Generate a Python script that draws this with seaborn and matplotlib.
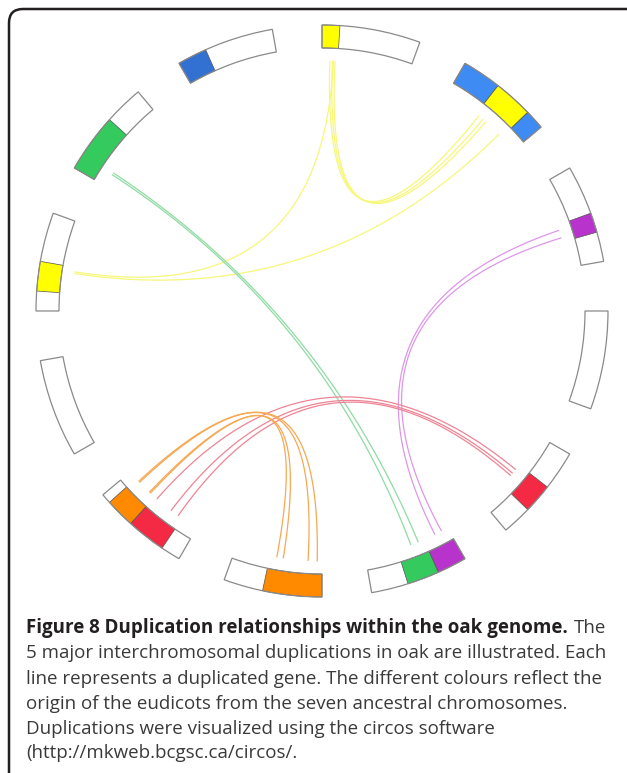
import numpy as np
import pandas as pd
import matplotlib
matplotlib.use("Agg")
import matplotlib.pyplot as plt
import seaborn as sns
from matplotlib.patches import Wedge, FancyBboxPatch

# chromosomes: angle in degrees, clockwise from the top
chrom_start = [0, 30, 60, 90, 120, 150, 180, 210, 240, 270, 300, 330]
chrom_end = [20, 50, 80, 110, 140, 170, 200, 230, 260, 290, 320, 350]

# coloured blocks (ancestral origin)
block_start = [0, 30, 38, 46, 70, 128, 150, 156, 180, 214, 222, 274, 300, 330]
block_end = [3.6, 38, 46, 50, 74, 134, 156, 162.5, 192, 222, 228, 280, 312, 336]
block_kind = ["yellow", "blue", "yellow", "blue", "purple", "red", "purple", "green",
              "orange", "red", "orange", "yellow", "green", "darkblue"]

# duplicated genes: one line per gene
link_from = [1.8, 2.4, 3.0, 2.6, 45.0, 303.0, 303.5, 71.2, 73.0,
             129.3, 130.4, 131.1, 227.1, 226.8, 223.6, 223.3]
link_to = [38.8, 40.0, 40.9, 279.0, 278.6, 159.2, 157.4, 153.2, 151.5,
           221.3, 217.1, 215.1, 181.1, 183.2, 188.9, 190.4]
link_kind = ["yellow", "yellow", "yellow", "yellow", "yellow", "green", "green", "purple", "purple",
             "red", "red", "red", "orange", "orange", "orange", "orange"]

block_colors = {"yellow": "#FFFF00", "blue": "#3E8BF4", "darkblue": "#3271D2", "purple": "#B833CB",
                "red": "#F42A45", "green": "#35CA5E", "orange": "#FF8A00"}
link_colors = {"yellow": "#F7F77A", "green": "#8FDBA3", "purple": "#DE96EA",
               "red": "#EE8495", "orange": "#F6A852"}

caption_bold = "Figure 8 Duplication relationships within the oak genome."
caption_lines = ["The",
                 "5 major interchromosomal duplications in oak are illustrated. Each",
                 "line represents a duplicated gene. The different colours reflect the",
                 "origin of the eudicots from the seven ancestral chromosomes.",
                 "Duplications were visualized using the circos software",
                 "(http://mkweb.bcgsc.ca/circos/."]

W, H = 627, 773
cx, cy = 322, H - 311
r_out, ring_w, r_link = 286, 23, 250


def pos(theta, r):
    a = np.deg2rad(90 - np.asarray(theta))
    return cx + r * np.cos(a), cy + r * np.sin(a)


sns.set_theme(style="white")
plt.rcParams["font.family"] = ["Open Sans", "DejaVu Sans"]

fig = plt.figure(figsize=(W / 100, H / 100), dpi=100)
ax = fig.add_axes([0, 0, 1, 1])
ax.set_xlim(0, W)
ax.set_ylim(0, H)
ax.set_axis_off()

# frame around the figure (only top and left edges are inside the picture)
frame = FancyBboxPatch((9, -100), 1000, H - 9 + 100, boxstyle="round,pad=0,rounding_size=14",
                       facecolor="none", edgecolor="#231f20", lw=1.8)
ax.add_patch(frame)

# links as quadratic bezier curves through the centre
t = np.linspace(0, 1, 120)
rows = []
for i, (a, b, k) in enumerate(zip(link_from, link_to, link_kind)):
    x0, y0 = pos(a, r_link)
    x2, y2 = pos(b, r_link)
    xs = (1 - t) ** 2 * x0 + 2 * (1 - t) * t * cx + t ** 2 * x2
    ys = (1 - t) ** 2 * y0 + 2 * (1 - t) * t * cy + t ** 2 * y2
    rows.append(pd.DataFrame({"x": xs, "y": ys, "link": i}))
links = pd.concat(rows)
pal = {i: link_colors[k] for i, k in enumerate(link_kind)}
sns.lineplot(data=links, x="x", y="y", hue="link", palette=pal, units="link", estimator=None,
             sort=False, lw=0.9, legend=False, ax=ax)

# ideogram
for s, e in zip(chrom_start, chrom_end):
    ax.add_patch(Wedge((cx, cy), r_out, 90 - e, 90 - s, width=ring_w,
                       facecolor="white", edgecolor="none"))
for s, e, k in zip(block_start, block_end, block_kind):
    ax.add_patch(Wedge((cx, cy), r_out, 90 - e, 90 - s, width=ring_w,
                       facecolor=block_colors[k], edgecolor="#555555", lw=0.5))
for s, e in zip(chrom_start, chrom_end):
    ax.add_patch(Wedge((cx, cy), r_out, 90 - e, 90 - s, width=ring_w,
                       facecolor="none", edgecolor="#8a8a8a", lw=0.9))

# caption
fs = 13.5
baselines = [633, 658, 684, 709, 734, 758]
tb = fig.text(26 / W, (H - baselines[0]) / H, caption_bold, fontsize=fs, fontweight="bold",
              color="#231f20", va="baseline", ha="left")
fig.canvas.draw()
bb = tb.get_window_extent()
fig.text((bb.x1 + 6) / W, (H - baselines[0]) / H, caption_lines[0], fontsize=fs,
         color="#3a3a3a", va="baseline", ha="left")
for yb, line in zip(baselines[1:], caption_lines[1:]):
    fig.text(26 / W, (H - yb) / H, line, fontsize=fs, color="#3a3a3a", va="baseline", ha="left")

fig.savefig("out.png", dpi=100)
